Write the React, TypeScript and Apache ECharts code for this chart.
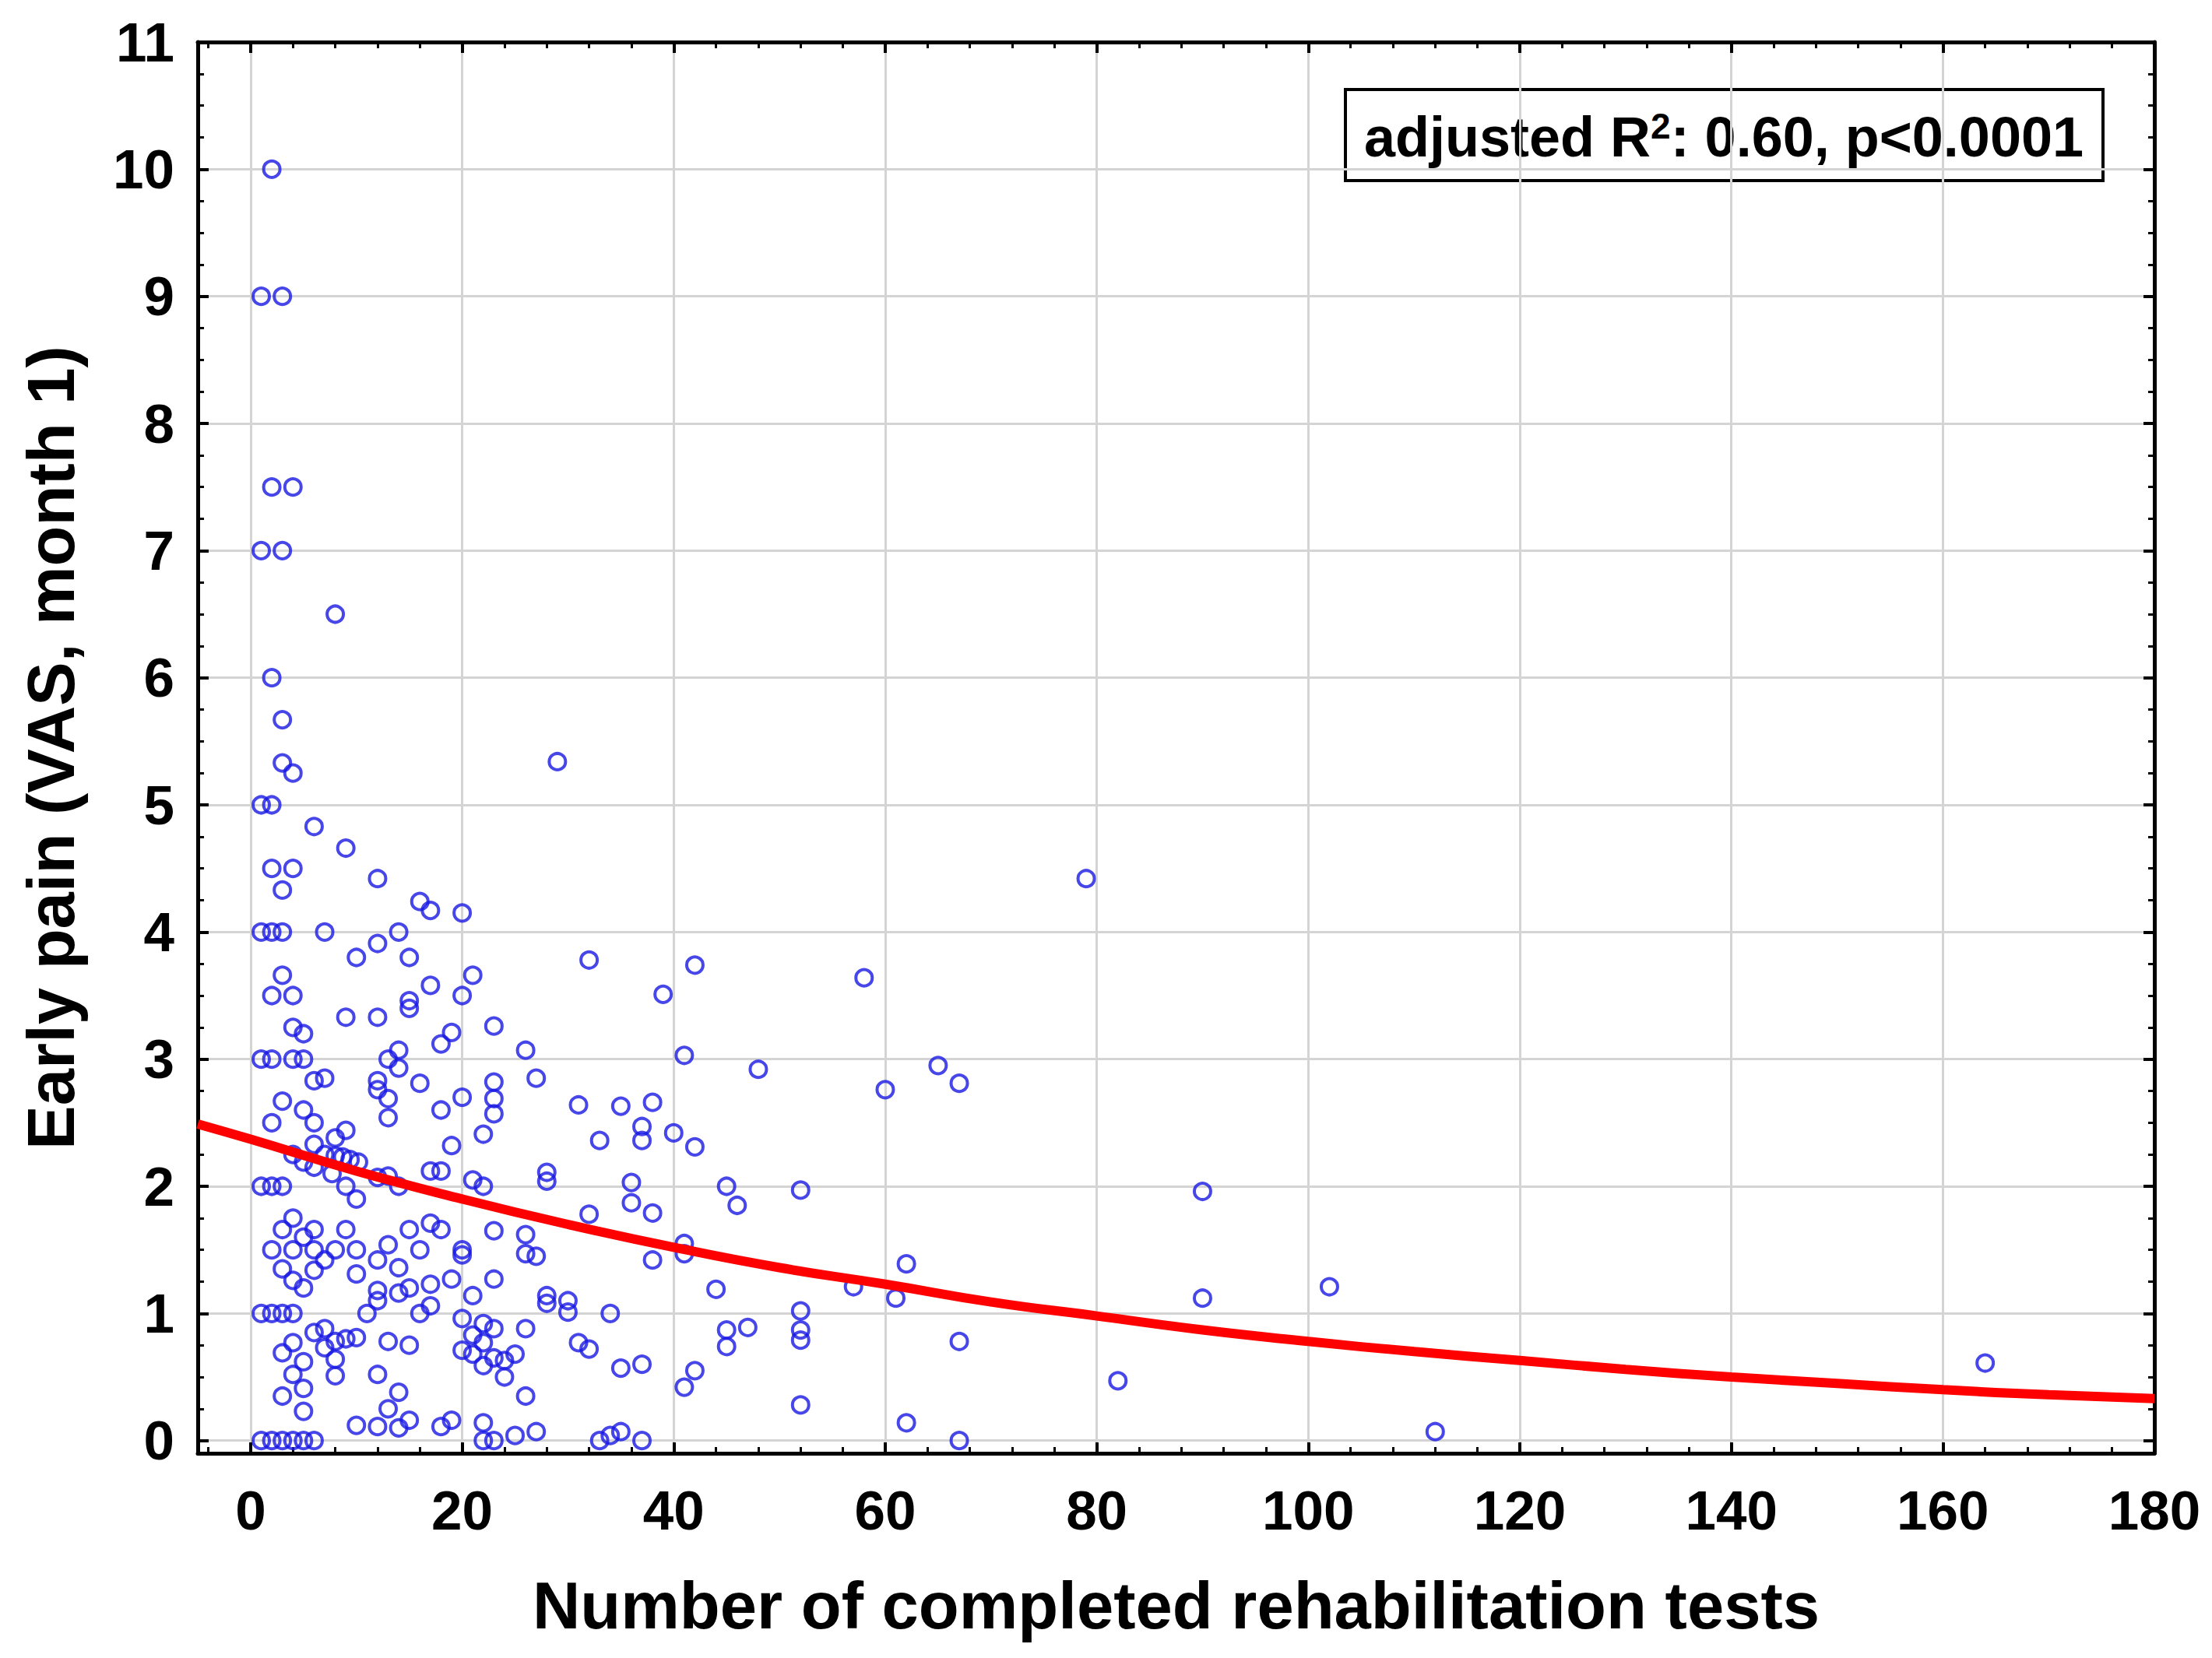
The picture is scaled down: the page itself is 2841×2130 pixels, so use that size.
import React, { useEffect, useRef } from "react";
import * as echarts from "echarts";

// Tick labels
const xTickLabels = [0, 20, 40, 60, 80, 100, 120, 140, 160, 180];
const yTickLabels = [0, 1, 2, 3, 4, 5, 6, 7, 8, 9, 10, 11];

// Observations: [number of completed rehabilitation tests, early pain VAS month 1]
const pointsHighPain: [number, number][] = [
  [2, 10], [1, 9], [3, 9], [2, 7.5], [4, 7.5], [1, 7], [3, 7], [8, 6.5], [2, 6],
  [3, 5.67], [3, 5.33], [4, 5.25], [29, 5.34], [1, 5], [2, 5], [6, 4.83], [9, 4.66],
  [2, 4.5], [4, 4.5], [3, 4.33], [12, 4.42], [16, 4.24], [17, 4.17], [20, 4.15],
  [1, 4], [2, 4], [3, 4], [7, 4], [12, 3.91], [14, 4], [10, 3.8], [15, 3.8], [32, 3.78],
  [42, 3.74], [3, 3.66], [21, 3.66], [17, 3.58], [2, 3.5], [4, 3.5], [15, 3.46],
  [15, 3.4], [20, 3.5], [39, 3.51], [9, 3.33], [12, 3.33], [4, 3.25], [5, 3.2],
  [23, 3.26], [19, 3.21], [18, 3.12], [14, 3.07], [13, 3.0], [14, 2.93], [26, 3.07],
  [41, 3.03], [1, 3], [2, 3], [4, 3], [5, 3],
];

const pointsMidPain: [number, number][] = [
  [6, 2.83], [7, 2.85], [12, 2.83], [12, 2.76], [13, 2.69], [13, 2.54], [16, 2.81],
  [23, 2.82], [23, 2.69], [23, 2.57], [27, 2.85], [20, 2.7], [18, 2.6], [3, 2.67],
  [5, 2.6], [6, 2.5], [2, 2.5], [31, 2.64], [35, 2.63], [38, 2.66], [37, 2.47],
  [37, 2.36], [33, 2.36], [40, 2.42], [42, 2.31], [22, 2.41], [19, 2.32], [6, 2.33],
  [8, 2.38], [9, 2.44], [4, 2.25], [5, 2.19], [6, 2.15], [7, 2.25], [7.7, 2.1],
  [8, 2.24], [8.7, 2.23], [9.4, 2.21], [10.2, 2.19], [9, 2.0], [10, 1.9], [12, 2.07],
  [13, 2.08], [14, 2.0], [17, 2.12], [18, 2.12], [21, 2.05], [22, 2.0], [28, 2.11],
  [28, 2.04], [1, 2], [2, 2], [3, 2], [36, 2.03], [36, 1.87], [38, 1.79], [32, 1.78],
  [45, 2.0], [46, 1.85],
];

const pointsLowPain: [number, number][] = [
  [4, 1.75], [3, 1.66], [6, 1.66], [5, 1.6], [9, 1.66], [2, 1.5], [4, 1.5], [6, 1.5],
  [8, 1.5], [10, 1.5], [7, 1.42], [3, 1.35], [6, 1.34], [4, 1.26], [5, 1.2], [10, 1.31],
  [12, 1.42], [13, 1.54], [14, 1.36], [15, 1.66], [16, 1.5], [17, 1.71], [18, 1.66],
  [20, 1.5], [20, 1.46], [23, 1.65], [26, 1.62], [26, 1.47], [27, 1.45], [12, 1.18],
  [12, 1.1], [14, 1.16], [15, 1.2], [17, 1.23], [19, 1.27], [21, 1.14], [23, 1.27],
  [28, 1.14], [28, 1.08], [30, 1.1], [30, 1.01], [34, 1.0], [38, 1.42], [41, 1.55],
  [41, 1.47], [44, 1.19], [11, 1.0], [16, 1.0], [17, 1.06], [1, 1], [2, 1], [3, 1],
  [4, 1], [20, 0.96], [22, 0.92], [23, 0.88], [21, 0.83], [26, 0.88], [6, 0.85],
  [7, 0.88], [4, 0.77], [3, 0.69], [7, 0.73], [8, 0.78], [9, 0.8], [10, 0.81],
  [8, 0.64], [13, 0.78], [15, 0.75], [20, 0.71], [21, 0.68], [22, 0.77], [22, 0.59],
  [23, 0.65], [24, 0.63], [25, 0.68], [24, 0.5], [31, 0.77], [32, 0.72], [35, 0.57],
  [37, 0.6], [42, 0.55], [41, 0.42], [45, 0.87], [45, 0.74], [47, 0.89], [5, 0.62],
  [4, 0.52], [8, 0.51], [12, 0.52], [5, 0.41], [3, 0.35], [5, 0.23], [14, 0.38],
  [13, 0.25], [26, 0.35], [10, 0.12], [12, 0.11], [14, 0.1], [15, 0.16], [18, 0.11],
  [19, 0.16], [22, 0.14], [25, 0.04], [27, 0.07], [35, 0.07], [34, 0.04], [33, 0],
  [37, 0], [22, 0], [23, 0], [1, 0], [2, 0], [3, 0], [4, 0], [5, 0], [6, 0],
];

const pointsHighTests: [number, number][] = [
  [48, 2.92], [52, 1.97], [58, 3.64], [60, 2.76], [65, 2.95], [67, 2.81], [79, 4.42],
  [90, 1.96], [52, 1.02], [52, 0.87], [52, 0.79], [57, 1.21], [61, 1.12], [62, 1.39],
  [67, 0.78], [52, 0.28], [62, 0.14], [67, 0], [82, 0.47], [90, 1.12], [102, 1.21],
  [112, 0.07], [164, 0.61],
];

// Fitted curve
const curveTests = [-5, 0, 10, 20, 30, 40, 50, 60, 70, 80, 90, 100, 110, 120, 130, 140, 150, 160, 170, 180];
const curvePain = [2.49, 2.37, 2.12, 1.9, 1.7, 1.52, 1.36, 1.23, 1.09, 0.98, 0.87, 0.78, 0.7, 0.63, 0.56, 0.5, 0.45, 0.4, 0.36, 0.33];

const FONT = "'Liberation Sans', Arial, Helvetica, sans-serif";

export default function App() {
  const ref = useRef<HTMLDivElement>(null);

  useEffect(() => {
    if (!ref.current) return;
    const chart = echarts.init(ref.current, null, { renderer: "svg" });

    const xMinor: number[] = [];
    for (let v = -4; v <= 180; v += 4) xMinor.push(v);
    const yMinor: number[] = [];
    for (let i = 0; i <= 44; i++) yMinor.push(i * 0.25);

    const allPoints = [...pointsHighPain, ...pointsMidPain, ...pointsLowPain, ...pointsHighTests];
    const curve = curveTests.map((x, i) => [x, curvePain[i]]);

    const frameLine = { show: true, onZero: false, lineStyle: { color: "#000", width: 5 } };
    const noLine = { show: false, onZero: false };
    const majorTick = (vals: number[]) => ({
      show: true, inside: true, length: 14, customValues: vals,
      lineStyle: { color: "#000", width: 4 },
    });
    const minorTick = (vals: number[]) => ({
      show: true, inside: true, length: 8, customValues: vals,
      lineStyle: { color: "#000", width: 3 },
    });
    const xBase = { type: "value", min: -5, max: 180, axisLabel: { show: false }, splitLine: { show: false } };
    const yBase = { type: "value", min: -0.1, max: 11, axisLabel: { show: false }, splitLine: { show: false } };
    const labelStyle = { fontSize: 71, fontWeight: "bold", fontFamily: FONT, color: "#000" };
    const nameStyle = { fontSize: 85, fontWeight: "bold", fontFamily: FONT, color: "#000" };

    chart.setOption({
      animation: false,
      backgroundColor: "#fff",
      grid: {
        left: 254, top: 54, right: 74, bottom: 263,
        containLabel: false, outerBoundsMode: "none",
      },
      xAxis: [
        {
          ...xBase, position: "bottom",
          axisLine: frameLine, axisTick: majorTick(xTickLabels),
          axisLabel: { show: true, customValues: xTickLabels, margin: 38, ...labelStyle },
          splitLine: { show: true, lineStyle: { color: "#d4d4d4", width: 3 } },
          name: "Number of completed rehabilitation tests",
          nameLocation: "middle", nameGap: 153, nameMoveOverlap: false,
          nameTextStyle: nameStyle,
        },
        { ...xBase, position: "bottom", axisLine: noLine, axisTick: minorTick(xMinor) },
        { ...xBase, position: "top", axisLine: frameLine, axisTick: majorTick(xTickLabels) },
        { ...xBase, position: "top", axisLine: noLine, axisTick: minorTick(xMinor) },
      ],
      yAxis: [
        {
          ...yBase, position: "left",
          axisLine: frameLine, axisTick: majorTick(yTickLabels),
          axisLabel: { show: true, customValues: yTickLabels, margin: 30, ...labelStyle },
          splitLine: { show: true, lineStyle: { color: "#d4d4d4", width: 3 } },
          name: "Early pain (VAS, month 1)",
          nameLocation: "middle", nameGap: 146, nameMoveOverlap: false,
          nameTextStyle: nameStyle,
        },
        { ...yBase, position: "left", axisLine: noLine, axisTick: minorTick(yMinor) },
        { ...yBase, position: "right", axisLine: frameLine, axisTick: majorTick(yTickLabels) },
        { ...yBase, position: "right", axisLine: noLine, axisTick: minorTick(yMinor) },
      ],
      series: [
        {
          type: "scatter", xAxisIndex: 0, yAxisIndex: 0, data: allPoints,
          symbol: "circle", symbolSize: 21,
          itemStyle: { color: "rgba(0,0,0,0)", borderColor: "#1818e4", borderWidth: 4 },
          clip: true, silent: true,
        },
        {
          type: "line", xAxisIndex: 0, yAxisIndex: 0, data: curve, smooth: true,
          showSymbol: false, symbol: "none", clip: true, silent: true,
          lineStyle: { color: "#ff0000", width: 12 },
        },
      ],
      graphic: [
        {
          type: "group", z: 100,
          children: [
            {
              type: "rect", shape: { x: 1728, y: 115, width: 973, height: 117 },
              style: { fill: "#fff", stroke: "#000", lineWidth: 4 },
            },
            {
              type: "text", x: 2214, y: 176,
              style: {
                text: "adjusted R{sup|2}: 0.60, p<0.0001",
                rich: {
                  sup: {
                    fontSize: 46, fontWeight: "bold", fontFamily: FONT, fill: "#000",
                    verticalAlign: "top", lineHeight: 74,
                  },
                },
                fontSize: 72, fontWeight: "bold", fontFamily: FONT, fill: "#000",
                lineHeight: 74,
                align: "center", verticalAlign: "middle",
                textAlign: "center", textVerticalAlign: "middle",
              },
            },
          ],
        },
      ],
    });

    return () => chart.dispose();
  }, []);

  return (
    <div
      ref={ref}
      style={{ position: "absolute", left: 0, top: 0, width: 2841, height: 2130, background: "#fff" }}
    />
  );
}
